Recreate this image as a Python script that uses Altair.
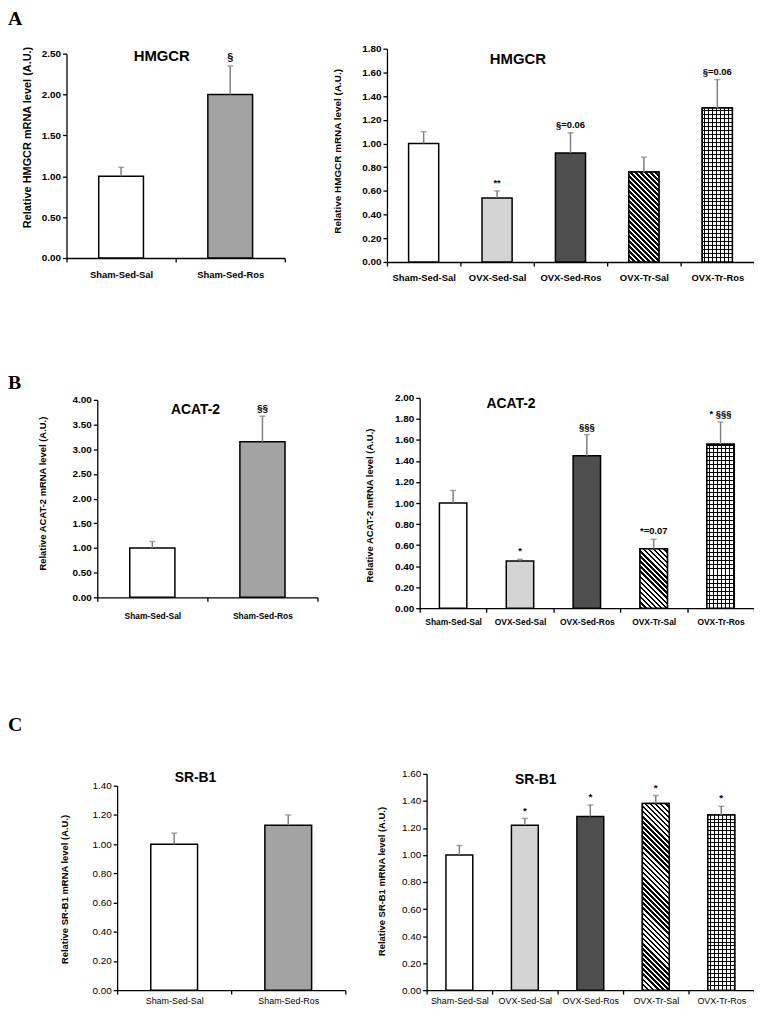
import math
import altair as alt
import pandas as pd

# ---------------- data ----------------
groups_2 = ["Sham-Sed-Sal", "Sham-Sed-Ros"]
groups_5 = ["Sham-Sed-Sal", "OVX-Sed-Sal", "OVX-Sed-Ros", "OVX-Tr-Sal", "OVX-Tr-Ros"]

hmgcr_left_mean = [1.00, 2.00]
hmgcr_left_top = [1.11, 2.35]
hmgcr_left_note = ["", "§"]
hmgcr_left_ticks = [0.0, 0.5, 1.0, 1.5, 2.0, 2.5]

hmgcr_right_mean = [1.00, 0.54, 0.92, 0.76, 1.30]
hmgcr_right_top = [1.10, 0.60, 1.09, 0.885, 1.54]
hmgcr_right_note = ["", "**", "§=0.06", "", "§=0.06"]
hmgcr_right_ticks = [0.0, 0.2, 0.4, 0.6, 0.8, 1.0, 1.2, 1.4, 1.6, 1.8]

acat_left_mean = [1.00, 3.15]
acat_left_top = [1.13, 3.67]
acat_left_note = ["", "§§"]
acat_left_ticks = [0.0, 0.5, 1.0, 1.5, 2.0, 2.5, 3.0, 3.5, 4.0]

acat_right_mean = [1.00, 0.45, 1.45, 0.565, 1.56]
acat_right_top = [1.12, 0.465, 1.65, 0.655, 1.77]
acat_right_note = ["", "*", "§§§", "*=0.07", "* §§§"]
acat_right_ticks = [0.0, 0.2, 0.4, 0.6, 0.8, 1.0, 1.2, 1.4, 1.6, 1.8, 2.0]

srb1_left_mean = [1.00, 1.13]
srb1_left_top = [1.075, 1.20]
srb1_left_note = ["", ""]
srb1_left_ticks = [0.0, 0.2, 0.4, 0.6, 0.8, 1.0, 1.2, 1.4]

srb1_right_mean = [1.00, 1.22, 1.285, 1.38, 1.295]
srb1_right_top = [1.07, 1.27, 1.37, 1.44, 1.36]
srb1_right_note = ["", "*", "*", "*", "*"]
srb1_right_ticks = [0.0, 0.2, 0.4, 0.6, 0.8, 1.0, 1.2, 1.4, 1.6]

# ---------------- style ----------------
W, H = 752, 1003
SANS = "Liberation Sans, Arial, sans-serif"
SERIF = "Liberation Serif, Times New Roman, serif"
ERR = "#808080"
BAR_FRAC = 0.41
FILLS = {
    "Sham-Sed-Sal": "#ffffff",
    "Sham-Sed-Ros": "#a3a3a3",
    "OVX-Sed-Sal": "#d4d4d4",
    "OVX-Sed-Ros": "#4e4e4e",
    "OVX-Tr-Sal": "#ffffff",
    "OVX-Tr-Ros": "#ffffff",
}
PATTERNS = {"OVX-Tr-Sal": "diag", "OVX-Tr-Ros": "grid"}
BLACK = "#000000"
WHITE = "#ffffff"
CLEAR = "rgba(0,0,0,0)"


def diag_fill(w, h, period=3.6, frac=0.5):
    r = h / w
    k = (1 + r) / (1 + r * r)
    n = max(1, round((w + h) / math.sqrt(2) / period))
    stops = []
    for i in range(n):
        a, b, c = i / n, (i + frac) / n, min(1.0, (i + 1) / n)
        stops += [alt.GradientStop(color=BLACK, offset=a),
                  alt.GradientStop(color=BLACK, offset=b),
                  alt.GradientStop(color=WHITE, offset=b),
                  alt.GradientStop(color=WHITE, offset=c)]
    return alt.LinearGradient(gradient="linear", stops=stops,
                              x1=0, y1=1, x2=k, y2=1 - k * r)


def stripes(intervals, gap):
    stops = [alt.GradientStop(color=gap, offset=0.0)]
    for a, b in sorted(intervals):
        a, b = max(0.0, a), min(1.0, b)
        stops += [alt.GradientStop(color=gap, offset=a),
                  alt.GradientStop(color=BLACK, offset=a),
                  alt.GradientStop(color=BLACK, offset=b),
                  alt.GradientStop(color=gap, offset=b)]
    stops.append(alt.GradientStop(color=gap, offset=1.0))
    return stops


def hgrid_fill(h, period=4):
    # horizontal lines one pixel thick, counted up from the bar's base
    iv = []
    j = 1
    while h - period * j - 1 > 0:
        iv.append(((h - period * j - 1) / h, (h - period * j) / h))
        j += 1
    return alt.LinearGradient(gradient="linear", stops=stripes(iv, WHITE),
                              x1=0, y1=0, x2=0, y2=1)


def vgrid_fill(left, w, period=4):
    iv = []
    c = math.ceil(left) + 2
    while c + 1 < left + w:
        iv.append(((c - left) / w, (c + 1 - left) / w))
        c += period
    return alt.LinearGradient(gradient="linear", stops=stripes(iv, CLEAR),
                              x1=0, y1=0, x2=1, y2=0)


one = pd.DataFrame({"k": [0]})


def panel(cats, means, tops, notes, ticks, box, title, title_pos, title_size,
          ytitle, ytitle_pos, ytitle_size, xlab_size, xlab_weight,
          xlab_pad, ylab_size, ylab_weight, note_size):
    L, T, Wp, Hp = box
    ymax = ticks[-1]
    df = pd.DataFrame({"group": cats, "mean": means, "top": tops, "note": notes})
    df["fill"] = [FILLS[c] for c in cats]
    base = alt.Chart(df)
    xs = alt.Scale(domain=cats, range=[L, L + Wp], paddingInner=0, paddingOuter=0)
    ys = alt.Scale(domain=[0, ymax], range=[T + Hp, T], nice=False, zero=True)
    x_axis = alt.Axis(title=None, orient="bottom", offset=(T + Hp) - H, labelAngle=0,
                      tickBand="extent", labelFont=SANS, labelFontSize=xlab_size,
                      labelFontWeight=xlab_weight, labelPadding=xlab_pad,
                      labelOverlap=False)
    y_axis = alt.Axis(title=ytitle, orient="left", offset=-L, values=ticks, format=".2f",
                      labelFont=SANS, labelFontSize=ylab_size, labelFontWeight=ylab_weight,
                      labelPadding=2, labelFlush=False, labelOverlap=False,
                      titleFont=SANS, titleFontSize=ytitle_size, titleFontWeight="bold",
                      titleAngle=270, titleBaseline="middle", titleAlign="center",
                      titleX=ytitle_pos[0] - L, titleY=ytitle_pos[1])
    X = alt.X("group:N", sort=cats, scale=xs, axis=x_axis)
    Xp = alt.X("group:N", sort=cats)
    Y = alt.Y("mean:Q", scale=ys, axis=y_axis, stack=None)
    Yp = alt.Y("mean:Q", stack=None)
    rel = alt.RelativeBandSize(BAR_FRAC)

    layers = [base.mark_bar(stroke=BLACK, strokeWidth=1.5, width=rel).encode(
        x=X, y=Y, fill=alt.Fill("fill:N", scale=None))]

    band = Wp / len(cats)
    w = BAR_FRAC * band
    for cat, kind in PATTERNS.items():
        if cat not in cats:
            continue
        idx = cats.index(cat)
        h = means[idx] / ymax * Hp
        left = L + band * idx + (band - w) / 2
        sub = base.transform_filter(alt.datum.group == cat)
        if kind == "diag":
            layers.append(sub.mark_bar(fill=diag_fill(w, h), stroke=BLACK,
                                       strokeWidth=1.5, width=rel).encode(x=Xp, y=Yp))
        else:
            layers.append(sub.mark_bar(fill=hgrid_fill(h), strokeWidth=0,
                                       width=rel).encode(x=Xp, y=Yp))
            layers.append(sub.mark_bar(fill=vgrid_fill(left, w), stroke=BLACK,
                                       strokeWidth=1.5, width=rel).encode(x=Xp, y=Yp))

    layers.append(base.mark_rule(color=ERR, strokeWidth=1.5).encode(
        x=Xp, y=Yp, y2="top:Q"))
    layers.append(base.mark_tick(color=ERR, thickness=1.5, size=6, orient="horizontal").encode(
        x=Xp, y=alt.Y("top:Q")))
    layers.append(base.mark_text(baseline="alphabetic", dy=-5, font=SANS, fontSize=note_size,
                                 fontWeight="bold", color=BLACK).encode(
        x=Xp, y=alt.Y("top:Q"), text="note:N"))
    layers.append(alt.Chart(one).mark_text(text=title, font=SANS, fontSize=title_size,
                                           fontWeight="bold", color=BLACK,
                                           baseline="middle", align="center").encode(
        x=alt.value(title_pos[0]), y=alt.value(title_pos[1])))
    return alt.layer(*layers)


panels = [
    panel(groups_2, hmgcr_left_mean, hmgcr_left_top, hmgcr_left_note, hmgcr_left_ticks,
          (59, 42, 220, 206), "HMGCR", (155, 44), 15,
          "Relative HMGCR mRNA level (A.U.)", (20, 126), 11,
          9.5, "bold", 8, 10, "bold", 11),
    panel(groups_5, hmgcr_right_mean, hmgcr_right_top, hmgcr_right_note, hmgcr_right_ticks,
          (382, 37, 370, 215), "HMGCR", (514, 47), 15,
          "Relative HMGCR mRNA level (A.U.)", (332, 140), 10,
          9.5, "bold", 7, 10, "bold", 9.5),
    panel(groups_2, acat_left_mean, acat_left_top, acat_left_note, acat_left_ticks,
          (90, 391, 222, 199), "ACAT-2", (189, 401), 14,
          "Relative ACAT-2 mRNA level (A.U.)", (35, 485), 9.5,
          8.5, "bold", 10, 10, "bold", 10),
    panel(groups_5, acat_right_mean, acat_right_top, acat_right_note, acat_right_ticks,
          (415, 389, 337, 212), "ACAT-2", (507, 395), 14,
          "Relative ACAT-2 mRNA level (A.U.)", (364, 497), 9.5,
          8.5, "bold", 5, 10, "bold", 9.5),
    panel(groups_2, srb1_left_mean, srb1_left_top, srb1_left_note, srb1_left_ticks,
          (110, 780, 230, 206), "SR-B1", (189, 772), 14,
          "Relative SR-B1 mRNA level (A.U.)", (57, 884), 9.5,
          9, "normal", 2, 10, "normal", 10),
    panel(groups_5, srb1_right_mean, srb1_right_top, srb1_right_note, srb1_right_ticks,
          (422, 768, 330, 218), "SR-B1", (532, 774), 14,
          "Relative SR-B1 mRNA level (A.U.)", (377, 876), 9.5,
          9, "normal", 2, 10, "normal", 10),
]

letters = []
for letter, ypos in [("A", 13), ("B", 380), ("C", 725)]:
    letters.append(alt.Chart(one).mark_text(text=letter, font=SERIF, fontSize=20,
                                            fontWeight="bold", color=BLACK,
                                            align="left", baseline="alphabetic").encode(
        x=alt.value(0), y=alt.value(ypos)))

chart = alt.layer(*panels, *letters).resolve_scale(
    x="independent", y="independent"
).properties(
    width=W, height=H, padding=0, autosize=alt.AutoSizeParams(type="none")
).configure_view(stroke=None).configure_axis(
    domainColor=BLACK, domainWidth=1.3, tickColor=BLACK, tickWidth=1.3,
    tickSize=4, labelColor=BLACK, titleColor=BLACK, grid=False
)

chart.save("out.html", embed_options={"renderer": "svg", "actions": False})
